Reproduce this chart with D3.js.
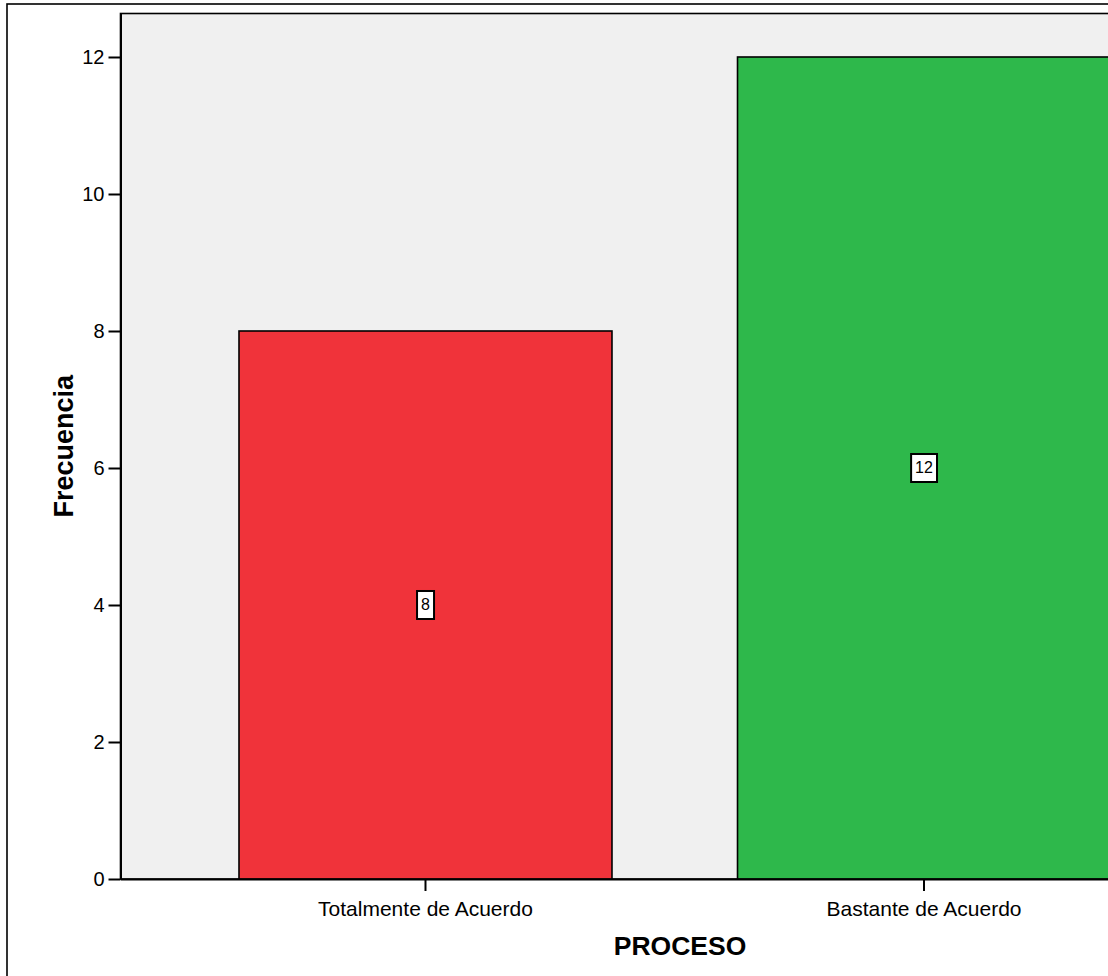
<!DOCTYPE html>
<html>
<head>
<meta charset="utf-8">
<script src="https://cdn.jsdelivr.net/npm/d3@7"></script>
<style>
  html, body { margin: 0; padding: 0; background: #ffffff; }
  svg { display: block; font-family: Arial, "Liberation Sans", sans-serif; }
</style>
</head>
<body>
<svg id="chart" width="1108" height="976"></svg>
<script>
// Frequency bar chart for PROCESO
const categories = ["Totalmente de Acuerdo", "Bastante de Acuerdo"];
const frequencies = [8, 12];
const barColors = ["#f0333a", "#2eb84b"];
const yTicks = [0, 2, 4, 6, 8, 10, 12];

const svg = d3.select("#chart");

// plot frame (extends past the right edge of the page)
const plot = { left: 120.5, right: 1229, top: 13.5, bottom: 879 };

const x = d3.scaleBand()
  .domain(categories)
  .range([plot.left, plot.right])
  .paddingInner(0.2518)
  .paddingOuter(0.2377);

const y = d3.scaleLinear()
  .domain([0, 12.635])
  .range([plot.bottom, plot.top]);

// outer chart border
svg.append("rect")
  .attr("x", 7).attr("y", 4)
  .attr("width", 1300).attr("height", 1100)
  .attr("fill", "#ffffff")
  .attr("stroke", "#000000")
  .attr("stroke-width", 1.6);

// plot background
svg.append("rect")
  .attr("x", plot.left).attr("y", plot.top)
  .attr("width", plot.right - plot.left).attr("height", plot.bottom - plot.top)
  .attr("fill", "#f0f0f0")
  .attr("stroke", "#000000")
  .attr("stroke-width", 1.6);

// bars
svg.append("g").selectAll("rect")
  .data(categories)
  .join("rect")
  .attr("x", d => x(d))
  .attr("y", (d, i) => y(frequencies[i]))
  .attr("width", x.bandwidth())
  .attr("height", (d, i) => y(0) - y(frequencies[i]))
  .attr("fill", (d, i) => barColors[i])
  .attr("stroke", "#000000")
  .attr("stroke-width", 1.6);

// y axis
const yAxis = svg.append("g")
  .attr("transform", `translate(${plot.left},0)`)
  .call(d3.axisLeft(y).tickValues(yTicks).tickFormat(d3.format("d"))
    .tickSizeInner(12).tickSizeOuter(0).tickPadding(4));
yAxis.select(".domain").attr("stroke", "#000").attr("stroke-width", 2);
yAxis.selectAll(".tick line").attr("stroke", "#000").attr("stroke-width", 2);
yAxis.selectAll(".tick text")
  .attr("font-size", 20)
  .attr("font-family", "Arial, 'Liberation Sans', sans-serif")
  .attr("fill", "#000");

// x axis
const xAxis = svg.append("g")
  .attr("transform", `translate(0,${plot.bottom})`)
  .call(d3.axisBottom(x).tickSizeInner(12).tickSizeOuter(0).tickPadding(10));
xAxis.select(".domain").attr("stroke", "#000").attr("stroke-width", 2);
xAxis.selectAll(".tick line").attr("stroke", "#000").attr("stroke-width", 2);
xAxis.selectAll(".tick text")
  .attr("font-size", 21)
  .attr("font-family", "Arial, 'Liberation Sans', sans-serif")
  .attr("fill", "#000");

// value labels at half bar height
const labels = svg.append("g").selectAll("g")
  .data(categories)
  .join("g")
  .attr("transform", (d, i) => `translate(${x(d) + x.bandwidth() / 2},${y(frequencies[i] / 2)})`);

labels.append("text")
  .attr("text-anchor", "middle")
  .attr("dominant-baseline", "central")
  .attr("font-size", 16)
  .attr("fill", "#000")
  .text((d, i) => frequencies[i])
  .each(function () {
    const b = this.getBBox();
    d3.select(this.parentNode).insert("rect", "text")
      .attr("x", b.x - 4)
      .attr("y", -14)
      .attr("width", b.width + 8)
      .attr("height", 28)
      .attr("fill", "#ffffff")
      .attr("stroke", "#000")
      .attr("stroke-width", 2);
  });

// axis titles
svg.append("text")
  .attr("transform", `translate(73,${(plot.top + plot.bottom) / 2}) rotate(-90)`)
  .attr("text-anchor", "middle")
  .attr("font-size", 27)
  .attr("font-weight", "bold")
  .attr("fill", "#000")
  .text("Frecuencia");

svg.append("text")
  .attr("x", 680)
  .attr("y", 955)
  .attr("text-anchor", "middle")
  .attr("font-size", 26.5)
  .attr("font-weight", "bold")
  .attr("fill", "#000")
  .text("PROCESO");
</script>
</body>
</html>
